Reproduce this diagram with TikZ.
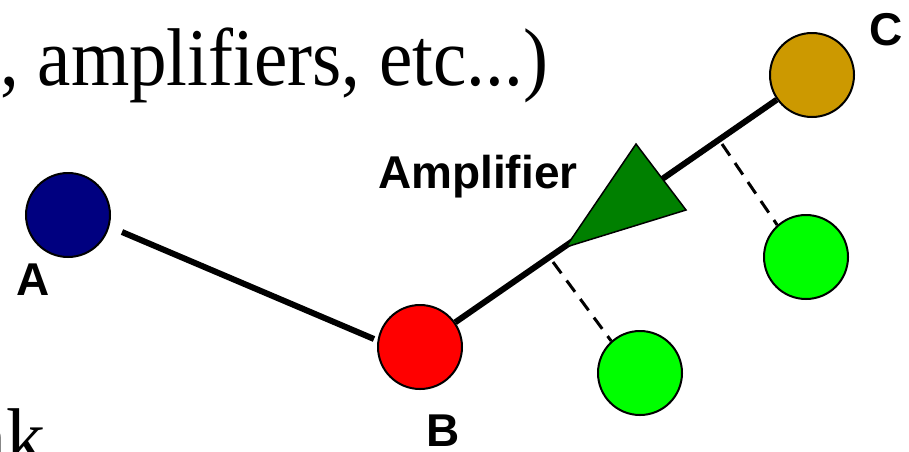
\documentclass[tikz,border=0pt]{standalone}
\usepackage{fontspec}
\setmainfont{Liberation Serif}
\newfontfamily\labelfont{Liberation Sans}
\usetikzlibrary{backgrounds}
\definecolor{navyA}{RGB}{0,0,128}
\definecolor{redB}{RGB}{255,0,0}
\definecolor{goldC}{RGB}{204,153,0}
\definecolor{leaf}{RGB}{0,255,0}
\definecolor{ampgreen}{RGB}{0,128,0}
\begin{document}
\begin{tikzpicture}[x=1pt,y=-1pt,
  dot/.style={circle,draw=black,line width=2pt,minimum size=84pt,inner sep=0pt},
  link/.style={line width=6pt},
  tap/.style={line width=3pt,dash pattern=on 14pt off 9pt},
  lbl/.style={font=\labelfont\bfseries\fontsize{46}{46}\selectfont,inner sep=0pt},
  big/.style={font=\fontsize{78}{78}\selectfont,inner sep=0pt}]
\useasboundingbox (0,0) rectangle (909,451);
\clip (0,0) rectangle (909,451);

% text
\node[big,anchor=base west,xscale=0.962,yscale=1.05] (title) at (0,85) {, amplifiers, etc...)};
\node[big,anchor=base east,yscale=1.05] (tail) at (46,465) {nk};

% nodes
\node[dot,fill=navyA] (A) at (68,215) {};
\node[dot,fill=redB] (B) at (420,347) {};
\node[dot,fill=goldC] (C) at (812,75) {};
\node[dot,fill=leaf] (G1) at (640,373) {};
\node[dot,fill=leaf] (G2) at (806,257) {};

\node[lbl,anchor=base] (la) at (33,295) {A};
\node[lbl,anchor=base] (lb) at (443,446) {B};
\node[lbl,anchor=base] (lc) at (886,45) {C};
\node[lbl,anchor=base west] (lamp) at (378,188) {Amplifier};

% connection points
\coordinate (a1) at (122,232);
\coordinate (b1) at (374,339);
\coordinate (t1) at (553,262);
\coordinate (t2) at (722,144);
\coordinate (amp1) at (636,144);
\coordinate (amp2) at (686,210);
\coordinate (amp3) at (566,247);

\begin{scope}[on background layer]
  \draw[link] (a1) -- (b1);
  \draw[link] (B.35) -- (C.215);
  \draw[tap] (t1) -- (G1.132);
  \draw[tap] (t2) -- (G2.132);
\end{scope}

% amplifier
\filldraw[fill=ampgreen,draw=black,line width=1.5pt,line join=miter] (amp1) -- (amp2) -- (amp3) -- cycle;
\end{tikzpicture}
\end{document}
